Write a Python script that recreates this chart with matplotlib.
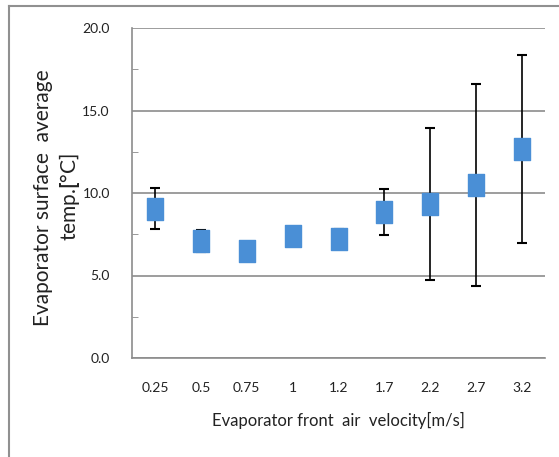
import matplotlib
matplotlib.use("Agg")
import matplotlib.pyplot as plt
from matplotlib.path import Path
from matplotlib.lines import Line2D
import numpy as np

categories = ["0.25", "0.5", "0.75", "1", "1.2", "1.7", "2.2", "2.7", "3.2"]
temps = [9.05, 7.1, 6.46, 7.41, 7.2, 8.85, 9.35, 10.47, 12.67]
errors = [1.25, 0.65, 0.3, 0.3, 0.62, 1.38, 4.6, 6.12, 5.7]
yticks = [0.0, 5.0, 10.0, 15.0, 20.0]

plt.rcParams['font.family'] = ['Lato', 'DejaVu Sans']
plt.rcParams['mathtext.fontset'] = 'custom'
plt.rcParams['mathtext.bf'] = 'Lato:bold'
plt.rcParams['mathtext.rm'] = 'Lato'

fig = plt.figure(figsize=(5.59, 4.57), dpi=100)
W, H = 559, 457
ax = fig.add_axes([132 / W, 1 - 358 / H, (545 - 132) / W, (358 - 28) / H])

x = np.arange(len(categories))
rect = Path([(-0.75, -1), (0.75, -1), (0.75, 1), (-0.75, 1), (-0.75, -1)],
            [Path.MOVETO, Path.LINETO, Path.LINETO, Path.LINETO, Path.CLOSEPOLY])
ax.errorbar(x, temps, yerr=errors, fmt='none', ecolor='black', elinewidth=1.2,
            capsize=3.5, capthick=1.5, zorder=2)
ax.plot(x, temps, linestyle='none', marker=rect, markersize=15.5,
        markerfacecolor='#4A8FD6', markeredgecolor='#4A8FD6', zorder=3)

ax.set_xlim(-0.5, len(categories) - 0.5)
ax.set_ylim(0, 20)
ax.set_yticks(yticks)
ax.set_yticklabels([f"{v:.1f}" for v in yticks], fontsize=10, color='#222222')
ax.set_yticks(np.arange(2.5, 20, 5), minor=True)
ax.set_xticks(x)
ax.set_xticklabels(categories, fontsize=10, color='#222222')
ax.tick_params(axis='x', length=0, pad=17)
ax.tick_params(axis='y', which='major', length=0, pad=16)
ax.tick_params(axis='y', which='minor', length=4, direction='in', color='#888888')
ax.grid(axis='y', color='#8c8c8c', linewidth=1.2)
ax.set_axisbelow(True)
for s in ['top', 'right']:
    ax.spines[s].set_visible(False)
for s in ['left', 'bottom']:
    ax.spines[s].set_color('#8c8c8c')
    ax.spines[s].set_linewidth(1.2)

fig.text(338 / W, 1 - 420 / H, "Evaporator front  air  velocity[m/s]",
         ha='center', va='center', fontsize=12, color='#222222')
fig.text(43 / W, 1 - 198 / H, "Evaporator surface  average", rotation=90,
         ha='center', va='center', fontsize=15, color='#222222')
fig.text(69 / W, 1 - 197 / H, r"temp.$\mathbf{[}$°C]", rotation=90,
         ha='center', va='center', fontsize=15, color='#222222')

fig.add_artist(Line2D([9 / W, 9 / W], [0, 1 - 6 / H], color='#909090', linewidth=1.5))
fig.add_artist(Line2D([9 / W, 1], [1 - 6 / H, 1 - 6 / H], color='#909090', linewidth=1.5))

fig.savefig("out.png", dpi=100)
